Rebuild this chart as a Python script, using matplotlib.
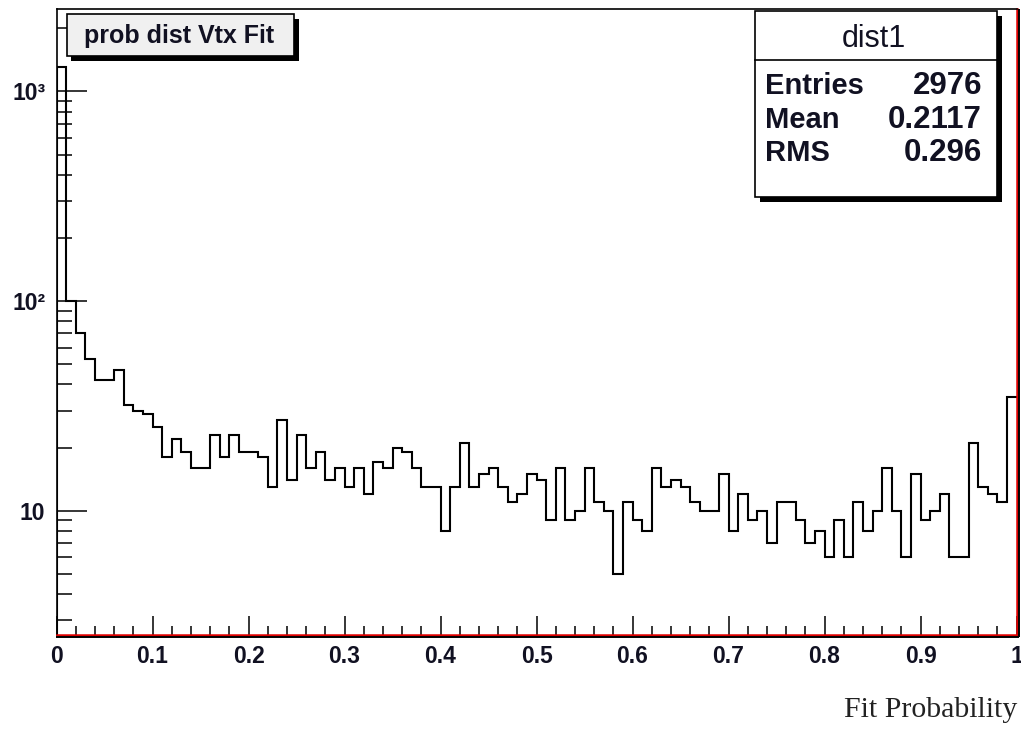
import matplotlib
matplotlib.use("Agg")
import matplotlib.pyplot as plt
from matplotlib.patches import Rectangle
from matplotlib.ticker import FixedLocator, LogLocator, NullFormatter

# Histogram contents: 100 equal bins on [0, 1]
bin_counts = [
    1307, 100, 70, 53, 42, 42, 47, 32, 30, 29,
    25, 18, 22, 19, 16, 16, 23, 18, 23, 19,
    19, 18, 13, 27, 14, 23, 16, 19, 14, 16,
    13, 16, 12, 17, 16, 20, 19, 16, 13, 13,
    8, 13, 21, 13, 15, 16, 13, 11, 12, 15,
    14, 9, 16, 9, 10, 16, 11, 10, 5, 11,
    9, 8, 16, 13, 14, 13, 11, 10, 10, 15,
    8, 12, 9, 10, 7, 11, 11, 9, 7, 8,
    6, 9, 6, 11, 8, 10, 16, 10, 6, 15,
    9, 10, 12, 6, 6, 21, 13, 12, 11, 35,
]
x_low, x_high = 0.0, 1.0

hist_title = "prob dist Vtx Fit"
hist_name = "dist1"
stat_names = ["Entries", "Mean", "RMS"]
stat_values = ["2976", "0.2117", "0.296"]
x_title = "Fit Probability"

x_major_ticks = [0.0, 0.1, 0.2, 0.3, 0.4, 0.5, 0.6, 0.7, 0.8, 0.9, 1.0]
x_major_labels = ["0", "0.1", "0.2", "0.3", "0.4", "0.5", "0.6", "0.7", "0.8", "0.9", "1"]
y_major_ticks = [10, 100, 1000]
y_major_labels = ["10", "10²", "10³"]

W, H = 1021, 731
SANS = "Liberation Sans"
INK = "#111122"

fig = plt.figure(figsize=(W / 100, H / 100), dpi=100)
fig.patch.set_facecolor("white")

# frame in pixel units: left, right, top, bottom
fl, fr, ft, fb = 56.5, 1016.5, 9.0, 635.0
ax = fig.add_axes([fl / W, 1 - fb / H, (fr - fl) / W, (fb - ft) / H])

n = len(bin_counts)
edges = [x_low + (x_high - x_low) * i / n for i in range(n + 1)]
ax.stairs(bin_counts, edges, color="black", linewidth=1.5, baseline=None)
# leading edge of the first bin down to the axis
ax.vlines(edges[0], 1e-3, bin_counts[0], color="black", linewidth=1.5)

ax.set_yscale("log")
ax.set_xlim(x_low, x_high)
ax.set_ylim(2.55, 2473)

ax.xaxis.set_major_locator(FixedLocator(x_major_ticks))
ax.set_xticklabels(x_major_labels)
ax.xaxis.set_minor_locator(FixedLocator([i * 0.02 for i in range(51)]))
ax.yaxis.set_major_locator(FixedLocator(y_major_ticks))
ax.set_yticklabels(y_major_labels)
ax.yaxis.set_minor_locator(LogLocator(base=10, subs=range(2, 10)))
ax.yaxis.set_minor_formatter(NullFormatter())

ax.tick_params(axis="x", which="major", direction="in", length=13.7, width=1.1, pad=7)
ax.tick_params(axis="x", which="minor", direction="in", length=6.5, width=1.1)
ax.tick_params(axis="y", which="major", direction="in", length=21.6, width=1.1, pad=8)
ax.tick_params(axis="y", which="minor", direction="in", length=10.8, width=1.1)
for lab in ax.get_xticklabels() + ax.get_yticklabels():
    lab.set_fontfamily(SANS)
    lab.set_fontweight("bold")
    lab.set_fontsize(16.5)
    lab.set_color(INK)

for side in ("left", "top"):
    ax.spines[side].set_color("black")
    ax.spines[side].set_linewidth(1.2)
for side in ("bottom", "right"):
    ax.spines[side].set_color("#e00000")
    ax.spines[side].set_linewidth(1.8)

# overlay drawn in pixel coordinates
ov = fig.add_axes([0, 0, 1, 1], zorder=5)
ov.set_xlim(0, W)
ov.set_ylim(H, 0)
ov.axis("off")
ov.patch.set_alpha(0)

# outer dark border along bottom and right of the frame
ov.plot([fl - 1, fr + 2], [fb + 2.2, fb + 2.2], color="black", lw=1.4, solid_capstyle="butt")
ov.plot([fr + 2.2, fr + 2.2], [ft, fb + 2.2], color="black", lw=1.4, solid_capstyle="butt")


def shadow_box(x0, y0, x1, y1, face, off=4.5):
    ov.add_patch(Rectangle((x0 + off, y0 + off), x1 - x0, y1 - y0,
                           facecolor="black", edgecolor="none", zorder=1))
    ov.add_patch(Rectangle((x0, y0), x1 - x0, y1 - y0,
                           facecolor=face, edgecolor="black", lw=1.2, zorder=2))


# title box
shadow_box(66.5, 14, 294, 56, "#f0f0f0")
ov.text((66.5 + 294) / 2 - 1, 36, hist_title, ha="center", va="center",
        family=SANS, weight="bold", size=18, color=INK, zorder=3)

# statistics box
sx0, sy0, sx1, sy1 = 755, 11, 997, 197
shadow_box(sx0, sy0, sx1, sy1, "white", off=5)
ov.plot([sx0, sx1], [60, 60], color="black", lw=1.2, zorder=3)
ov.text((sx0 + sx1) / 2 - 2, 39, hist_name, ha="center", va="center",
        family=SANS, size=22, color=INK, zorder=3)
for i, (nm, val) in enumerate(zip(stat_names, stat_values)):
    yy = 86 + i * 33.5
    ov.text(765, yy, nm, ha="left", va="center", family=SANS, weight="bold",
            size=21, color=INK, zorder=3)
    ov.text(982, yy, val, ha="right", va="center", family=SANS, weight="bold",
            size=22.5, color=INK, zorder=3)

ov.text(1017, 717, x_title, ha="right", va="baseline", family="Liberation Serif",
        size=21.5, color="#222222")

fig.savefig("out.png", dpi=100, facecolor="white")
